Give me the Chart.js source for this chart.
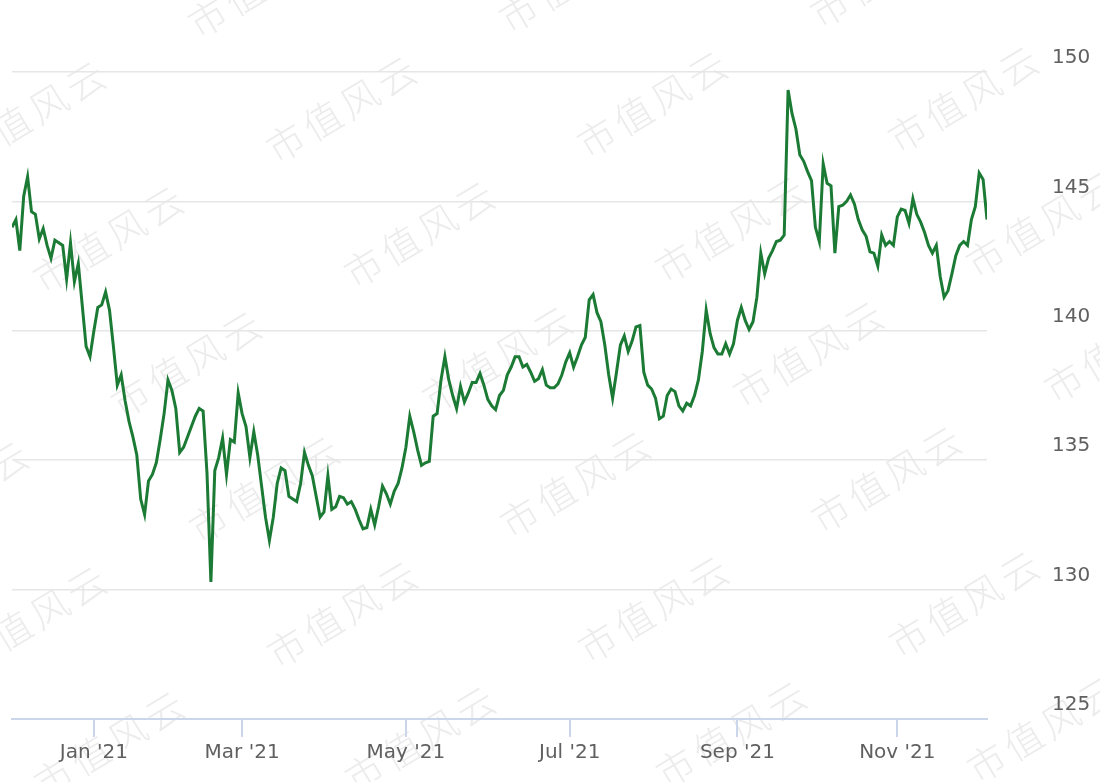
<!DOCTYPE html>
<html>
<head>
<meta charset="utf-8">
<script src="https://cdn.jsdelivr.net/npm/chart.js@4.4.1/dist/chart.umd.min.js"></script>
<style>
  html, body { margin: 0; padding: 0; background: #fff; }
  #wrap { width: 1100px; height: 782px; position: relative; }
</style>
</head>
<body>
<div id="wrap"><canvas id="chart"></canvas></div>
<script>
// daily closes, one per trading day (Dec '20 .. Nov '21)
const values = [
  144.0, 144.3, 143.1, 145.2, 145.95, 144.6, 144.5, 143.55, 143.95, 143.3,
  142.8, 143.5, 143.4, 143.3, 142.0, 143.4, 141.9, 142.6, 141.0, 139.4,
  139.0, 140.0, 140.9, 141.0, 141.5, 140.8, 139.4, 137.9, 138.3, 137.3,
  136.5, 135.9, 135.2, 133.5, 132.9, 134.2, 134.45, 134.9, 135.8, 136.8,
  138.1, 137.7, 137.0, 135.3, 135.5, 135.9, 136.3, 136.7, 137.0, 136.9,
  134.5, 130.3, 134.6, 135.1, 135.85, 134.45, 135.8, 135.7, 137.6, 136.8,
  136.3, 135.1, 136.1, 135.2, 134.0, 132.8, 131.9, 132.8, 134.1, 134.7,
  134.6, 133.6, 133.5, 133.4, 134.1, 135.3, 134.8, 134.4, 133.6, 132.8,
  133.0, 134.4, 133.1, 133.2, 133.6, 133.55, 133.3, 133.4, 133.1, 132.7,
  132.35, 132.4, 133.1, 132.5, 133.2, 134.0, 133.7, 133.3, 133.8, 134.1,
  134.7, 135.5, 136.7, 136.1, 135.4, 134.8, 134.9, 134.95, 136.7, 136.8,
  138.1, 139.0, 138.1, 137.5, 137.0, 137.85, 137.25, 137.6, 138.0, 138.0,
  138.35, 137.9, 137.35, 137.1, 136.95, 137.5, 137.7, 138.3, 138.6, 139.0,
  139.0, 138.6, 138.7, 138.4, 138.05, 138.15, 138.5, 137.9, 137.8, 137.8,
  137.95, 138.3, 138.8, 139.15, 138.6, 139.0, 139.45, 139.75, 141.2, 141.4,
  140.7, 140.35, 139.45, 138.3, 137.4, 138.4, 139.45, 139.8, 139.2, 139.6,
  140.15, 140.2, 138.4, 137.9, 137.75, 137.4, 136.6, 136.7, 137.5, 137.75,
  137.65, 137.1, 136.9, 137.2, 137.1, 137.5, 138.1, 139.2, 140.8, 139.9,
  139.35, 139.1, 139.1, 139.5, 139.1, 139.5, 140.4, 140.9, 140.4, 140.05,
  140.35, 141.3, 143.0, 142.2, 142.8, 143.1, 143.45, 143.5, 143.7, 149.3,
  148.4, 147.8, 146.8, 146.55, 146.15, 145.8, 144.0, 143.45, 146.45, 145.7,
  145.6, 143.0, 144.8, 144.85, 145.0, 145.25, 144.9, 144.3, 143.9, 143.65,
  143.05, 143.0, 142.5, 143.7, 143.3, 143.45, 143.3, 144.4, 144.7, 144.65,
  144.15, 145.1, 144.5, 144.2, 143.8, 143.3, 143.0, 143.3, 142.1, 141.3,
  141.55, 142.2, 142.9, 143.3, 143.45, 143.3, 144.3, 144.8, 146.1, 145.85,
  144.3
];

// first trading day of every other month
const tickIndex = [21, 59, 101, 143, 186, 227];
const tickLabels = ["Jan '21", "Mar '21", "May '21", "Jul '21", "Sep '21", "Nov '21"];

const yMin = 125;
const yMax = 150;
const yStep = 5;

const watermark = '市值风云';

const points = values.map((v, i) => ({ x: i, y: v }));

const labelFont = { family: '"DejaVu Sans", sans-serif', size: 20 };

// tiled, rotated watermark under everything
const watermarkPlugin = {
    id: 'watermark',
    beforeDraw(chart) {
        const ctx = chart.ctx;
        ctx.save();
        ctx.font = '300 38px "Noto Sans CJK SC"';
        ctx.fillStyle = '#ececec';
        ctx.textAlign = 'center';
        ctx.textBaseline = 'middle';
        ctx.letterSpacing = '5px';
        for (let r = -2; r < 8; r++) {
            for (let c = -3; c < 5; c++) {
                const x = 343 + c * 311 + r * 78;
                const y = 108 - c * 5 + r * 125;
                if (x < -150 || x > 1250 || y < -80 || y > 860) continue;
                ctx.save();
                ctx.translate(x, y);
                ctx.rotate(-31 * Math.PI / 180);
                ctx.fillText(watermark, 0, 0);
                ctx.restore();
            }
        }
        ctx.restore();
    }
};

// keep chart area where the layout padding says, labels may overflow
const noPad = scale => {
    scale.paddingTop = 0;
    scale.paddingBottom = 0;
    scale.paddingLeft = 0;
    scale.paddingRight = 0;
};

new Chart(document.getElementById('chart'), {
    type: 'line',
    data: {
        datasets: [{
            data: points,
            borderColor: '#1b7a34',
            borderWidth: 3,
            pointRadius: 0,
            tension: 0,
            fill: false
        }]
    },
    options: {
        responsive: true,
        maintainAspectRatio: false,
        animation: false,
        layout: { padding: { left: 12, top: 72, right: 0, bottom: 0 } },
        plugins: {
            legend: { display: false },
            tooltip: { enabled: false }
        },
        scales: {
            x: {
                type: 'linear',
                min: 0,
                max: values.length - 1,
                afterBuildTicks: scale => {
                    scale.ticks = tickIndex.map(v => ({ value: v }));
                },
                afterFit: scale => { scale.height = 63; noPad(scale); },
                grid: {
                    drawOnChartArea: false,
                    drawTicks: true,
                    tickLength: 18,
                    color: '#ccd6eb',
                    lineWidth: 2
                },
                border: { color: '#ccd6eb', width: 2 },
                ticks: {
                    autoSkip: false,
                    maxRotation: 0,
                    padding: 4,
                    color: '#606060',
                    font: labelFont,
                    callback: (value, index) => tickLabels[index]
                }
            },
            y: {
                position: 'right',
                min: yMin,
                max: yMax,
                afterFit: scale => { scale.width = 113; noPad(scale); },
                grid: {
                    drawTicks: false,
                    color: ctx => (ctx.tick && ctx.tick.value === yMin) ? 'rgba(0,0,0,0)' : '#e6e6e6',
                    lineWidth: 1.5
                },
                border: { display: false },
                ticks: {
                    stepSize: yStep,
                    padding: 65,
                    labelOffset: -14,
                    color: '#606060',
                    font: labelFont
                }
            }
        }
    },
    plugins: [watermarkPlugin]
});
</script>
</body>
</html>
